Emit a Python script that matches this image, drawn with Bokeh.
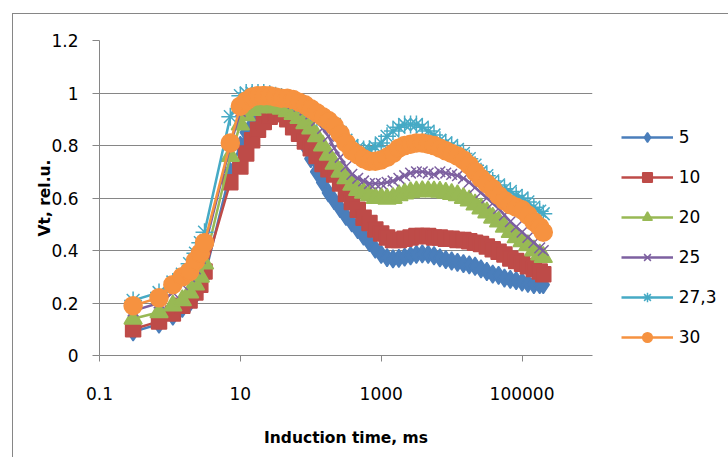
from bokeh.plotting import figure
from bokeh.models import Range1d, FixedTicker, Legend, LegendItem
from bokeh.embed import file_html
from bokeh.resources import INLINE

# Induction time, ms
time_ms = [0.3, 0.7, 1.1, 1.5, 1.9, 2.3, 2.7, 3.1, 7.2,
           10, 12.1, 14.7, 17.8, 21.5, 26.1, 31.6, 38.3, 46.4, 56.2, 68.1, 82.5,
           100, 121, 147, 178, 215, 261, 316, 383, 464, 562, 681, 825,
           1000, 1210, 1470, 1780, 2150, 2610, 3160, 3830, 4640, 5620, 6810, 8250,
           10000, 12100, 14700, 17800, 21500, 26100, 31600, 38300, 46400, 56200, 68100, 82500,
           100000, 121000, 147000, 178000, 200000]

vt_5 = [0.09, 0.12, 0.15, 0.18, 0.20, 0.23, 0.26, 0.30, 0.70,
        0.80, 0.85, 0.88, 0.91, 0.93, 0.94, 0.94, 0.93, 0.91, 0.88, 0.845, 0.80,
        0.75, 0.70, 0.66, 0.62, 0.59, 0.56, 0.53, 0.505, 0.48, 0.455, 0.43, 0.405,
        0.385, 0.373, 0.368, 0.37, 0.375, 0.38, 0.385, 0.387, 0.385, 0.38, 0.372, 0.365,
        0.36, 0.355, 0.35, 0.345, 0.34, 0.33, 0.32, 0.31, 0.305, 0.295, 0.29, 0.285,
        0.28, 0.275, 0.27, 0.27, 0.27]

vt_10 = [0.10, 0.13, 0.16, 0.19, 0.21, 0.24, 0.27, 0.32, 0.66,
         0.72, 0.77, 0.82, 0.86, 0.89, 0.91, 0.92, 0.92, 0.90, 0.87, 0.845, 0.815,
         0.79, 0.76, 0.73, 0.71, 0.69, 0.655, 0.615, 0.585, 0.555, 0.525, 0.505, 0.48,
         0.465, 0.45, 0.44, 0.44, 0.445, 0.45, 0.455, 0.455, 0.455, 0.45, 0.45, 0.445,
         0.445, 0.44, 0.44, 0.435, 0.43, 0.425, 0.415, 0.405, 0.395, 0.385, 0.37, 0.36,
         0.35, 0.34, 0.33, 0.32, 0.31]

vt_20 = [0.14, 0.165, 0.19, 0.21, 0.24, 0.27, 0.30, 0.35, 0.76,
         0.88, 0.915, 0.935, 0.945, 0.95, 0.95, 0.945, 0.94, 0.93, 0.92, 0.905, 0.885,
         0.865, 0.835, 0.80, 0.765, 0.73, 0.70, 0.675, 0.65, 0.63, 0.62, 0.61, 0.60,
         0.60, 0.597, 0.60, 0.61, 0.617, 0.622, 0.625, 0.626, 0.626, 0.625, 0.624, 0.62,
         0.615, 0.61, 0.60, 0.59, 0.575, 0.56, 0.545, 0.525, 0.51, 0.49, 0.47, 0.45,
         0.435, 0.42, 0.40, 0.385, 0.375]

vt_25 = [0.17, 0.20, 0.24, 0.27, 0.30, 0.33, 0.37, 0.41, 0.80,
         0.93, 0.96, 0.98, 0.995, 1.0, 0.995, 0.99, 0.98, 0.97, 0.96, 0.95, 0.935,
         0.92, 0.895, 0.865, 0.835, 0.79, 0.755, 0.72, 0.69, 0.675, 0.665, 0.655, 0.655,
         0.655, 0.66, 0.665, 0.675, 0.685, 0.695, 0.70, 0.70, 0.695, 0.69, 0.70, 0.695,
         0.69, 0.685, 0.675, 0.66, 0.64, 0.62, 0.60, 0.58, 0.56, 0.535, 0.51, 0.49,
         0.47, 0.45, 0.43, 0.41, 0.40]

vt_27_3 = [0.21, 0.24, 0.28, 0.31, 0.35, 0.39, 0.43, 0.47, 0.91,
           0.99, 1.0, 1.0, 1.0, 1.0, 0.995, 0.99, 0.985, 0.98, 0.97, 0.96, 0.95,
           0.935, 0.92, 0.90, 0.89, 0.88, 0.85, 0.82, 0.80, 0.79, 0.785, 0.785, 0.795,
           0.81, 0.835, 0.855, 0.87, 0.88, 0.88, 0.88, 0.87, 0.855, 0.84, 0.82, 0.81,
           0.80, 0.785, 0.77, 0.75, 0.725, 0.70, 0.685, 0.665, 0.65, 0.635, 0.625, 0.61,
           0.60, 0.585, 0.565, 0.55, 0.54]

vt_30 = [0.19, 0.22, 0.27, 0.30, 0.32, 0.36, 0.39, 0.43, 0.81,
         0.95, 0.97, 0.985, 0.99, 0.99, 0.99, 0.985, 0.98, 0.98, 0.975, 0.965, 0.955,
         0.94, 0.925, 0.91, 0.895, 0.875, 0.845, 0.81, 0.78, 0.765, 0.75, 0.74, 0.74,
         0.745, 0.755, 0.77, 0.79, 0.80, 0.805, 0.81, 0.81, 0.805, 0.80, 0.79, 0.78,
         0.77, 0.76, 0.745, 0.725, 0.70, 0.675, 0.655, 0.635, 0.61, 0.59, 0.575, 0.565,
         0.555, 0.535, 0.51, 0.49, 0.47]

series_labels = ["5", "10", "20", "25", "27,3", "30"]
series_values = [vt_5, vt_10, vt_20, vt_25, vt_27_3, vt_30]

x_ticks = [0.1, 10, 1000, 100000]
x_tick_labels = ["0.1", "10", "1000", "100000"]
y_ticks = [0, 0.2, 0.4, 0.6, 0.8, 1.0, 1.2]
y_tick_labels = ["0", "0.2", "0.4", "0.6", "0.8", "1", "1.2"]

colors = ["#4A7EBB", "#BE4B48", "#98B954", "#7D60A0", "#46AAC5", "#F69240"]
markers = ["diamond", "square", "triangle", "x", "asterisk", "circle"]
sizes = [18, 15, 18, 15, 18, 18]

FONT = "DejaVu Sans"
AXIS_GRAY = "#868686"

p = figure(
    frame_width=493, frame_height=315,
    min_border_left=86, min_border_right=129, min_border_top=26, min_border_bottom=102,
    x_axis_type="log",
    x_range=Range1d(0.1, 1e6), y_range=Range1d(0, 1.2),
    output_backend="svg", toolbar_location=None,
)
p.margin = (13, 0, 0, 12)
p.styles = {"border": "1px solid #868686", "border-bottom": "none"}
p.outline_line_color = None
p.background_fill_color = "white"
p.border_fill_color = "white"

# axes
p.xaxis.ticker = FixedTicker(ticks=x_ticks)
p.xaxis.major_label_overrides = {t: s for t, s in zip(x_ticks, x_tick_labels)}
p.yaxis.ticker = FixedTicker(ticks=y_ticks)
p.yaxis.major_label_overrides = {t: s for t, s in zip(y_ticks, y_tick_labels)}
for ax in (p.xaxis[0], p.yaxis[0]):
    ax.axis_line_color = AXIS_GRAY
    ax.major_tick_line_color = AXIS_GRAY
    ax.minor_tick_line_color = None
    ax.major_tick_in = 0
    ax.major_label_text_font = FONT
    ax.major_label_text_font_size = "17px"
    ax.major_label_text_color = "black"
    ax.axis_label_text_font = FONT
    ax.axis_label_text_font_size = "15.5px"
    ax.axis_label_text_font_style = "bold"
    ax.axis_label_text_color = "black"
p.xaxis.major_tick_out = 6
p.xaxis.major_label_standoff = 25
p.xaxis.axis_label = "Induction time, ms"
p.xaxis.axis_label_standoff = 26
p.yaxis.major_tick_out = 7
p.yaxis.major_label_standoff = 14
p.yaxis.axis_label = "Vt, rel.u."
p.yaxis.axis_label_standoff = -6

p.xgrid.grid_line_color = None
p.ygrid.ticker = FixedTicker(ticks=y_ticks[1:])
p.ygrid.grid_line_color = AXIS_GRAY
p.ygrid.grid_line_width = 1

items = []
for label, vals, color, marker, size in zip(series_labels, series_values, colors, markers, sizes):
    ln = p.line(time_ms, vals, line_color=color, line_width=2.5, line_join="round")
    mk = p.scatter(time_ms, vals, marker=marker, size=size,
                   fill_color=color, line_color=color, line_width=1.5)
    items.append(LegendItem(label=label, renderers=[ln, mk]))

# legend sits in the right-hand panel, one entry every 40 px
legend = Legend(items=items, location=(28.7, 6))
legend.glyph_width = 52
legend.glyph_height = 24
legend.label_height = 20
legend.spacing = 16
legend.padding = 0
legend.margin = 0
legend.label_standoff = 6
legend.border_line_color = None
legend.background_fill_alpha = 0
legend.label_text_font = FONT
legend.label_text_font_size = "17px"
legend.label_text_color = "black"
p.add_layout(legend, "right")

open("out.html", "w").write(file_html(p, INLINE))
